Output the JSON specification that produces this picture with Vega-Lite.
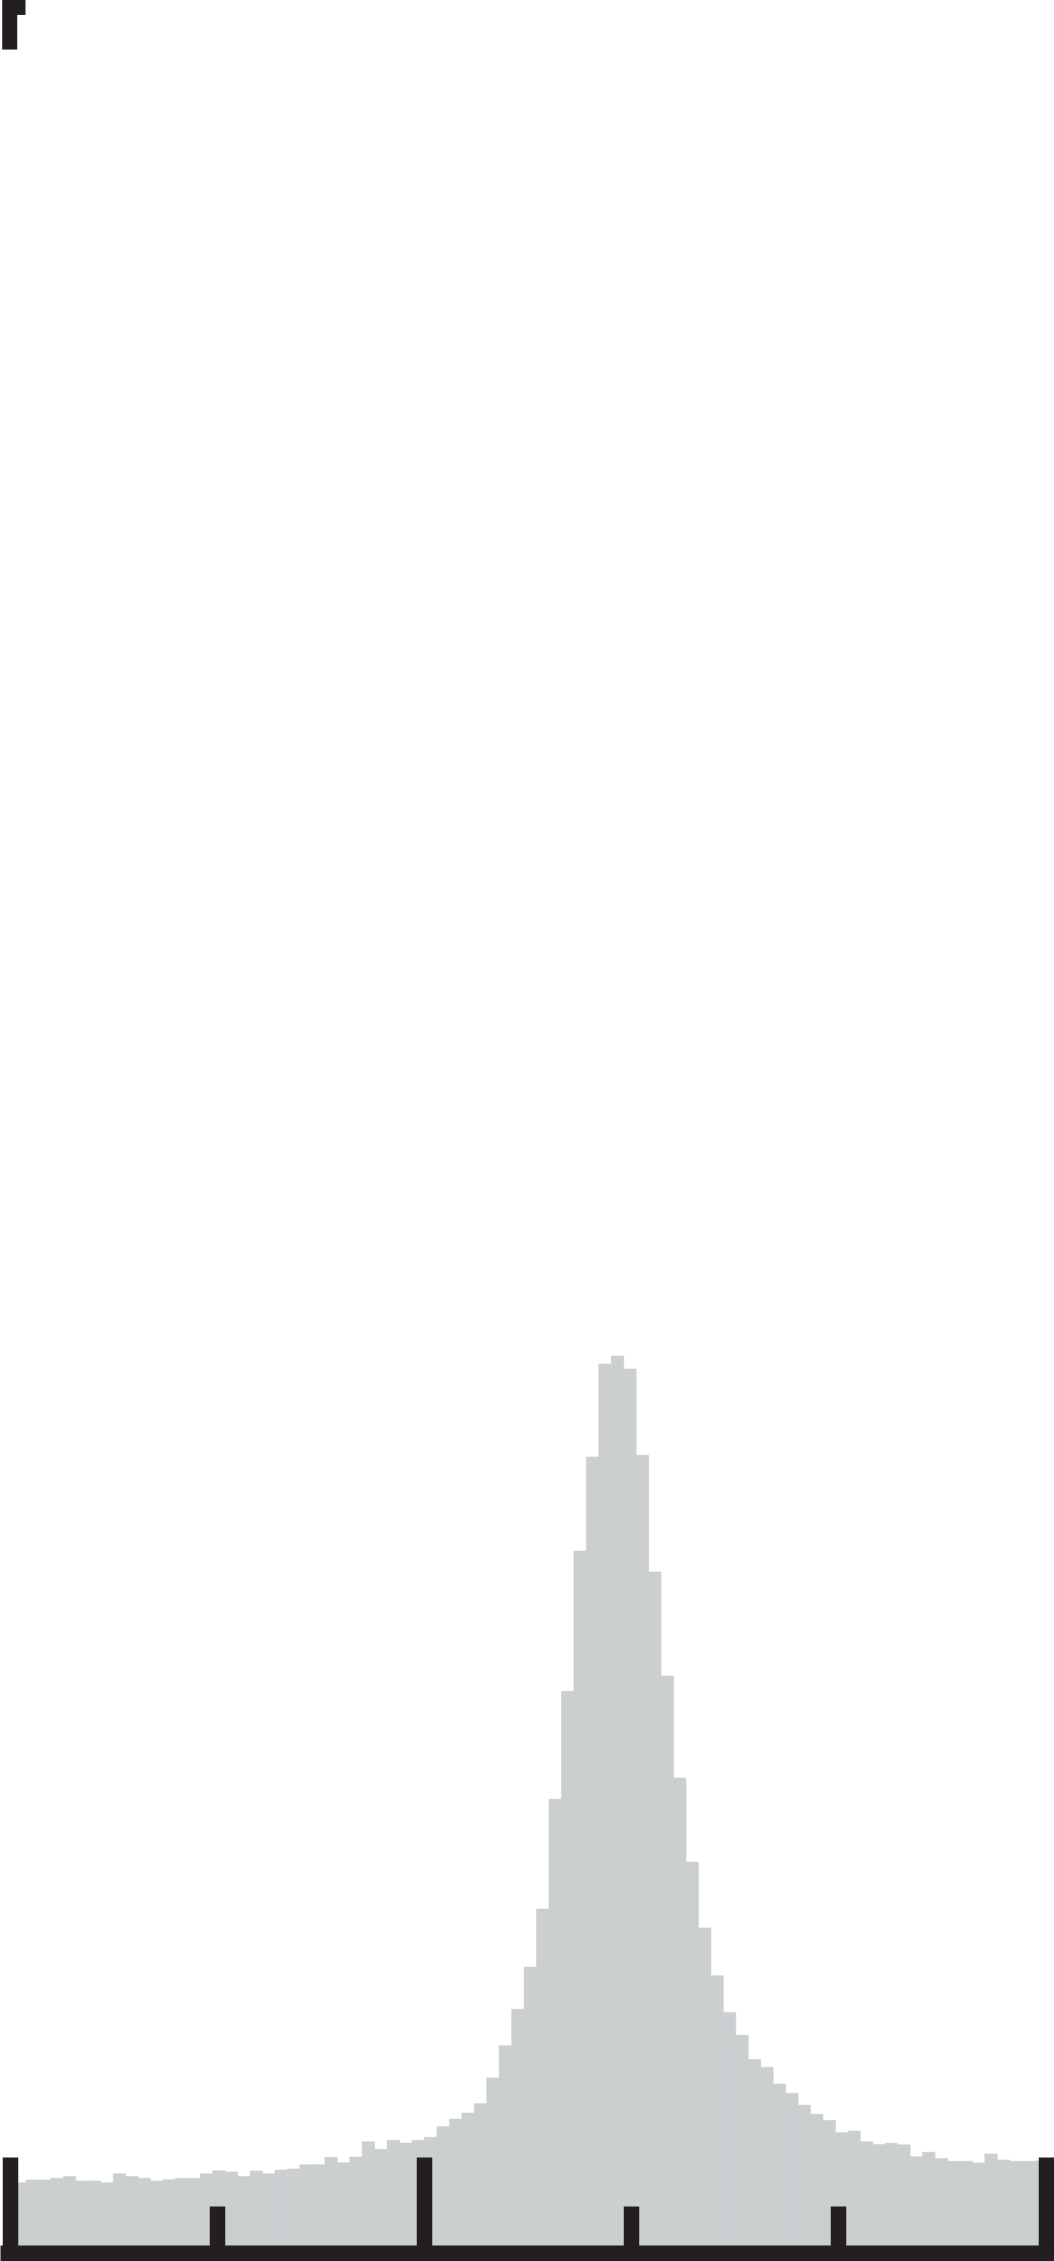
{
  "$schema": "https://vega.github.io/schema/vega-lite/v6.json",
  "width": 1054,
  "height": 2253,
  "autosize": "none",
  "padding": {"left": 0, "top": 0, "right": 0, "bottom": 8},
  "background": "white",
  "config": {"view": {"stroke": null}},
  "layer": [
    {
      "data": {
        "values": [
          {"bin_start": 0.0186, "bin_end": 0.0787, "count": 31.2},
          {"bin_start": 0.0787, "bin_end": 0.1388, "count": 32.4},
          {"bin_start": 0.1388, "bin_end": 0.1989, "count": 32.4},
          {"bin_start": 0.1989, "bin_end": 0.2590, "count": 33.2},
          {"bin_start": 0.2590, "bin_end": 0.3191, "count": 33.9},
          {"bin_start": 0.3191, "bin_end": 0.3792, "count": 32.0},
          {"bin_start": 0.3792, "bin_end": 0.4393, "count": 32.0},
          {"bin_start": 0.4393, "bin_end": 0.4994, "count": 31.2},
          {"bin_start": 0.4994, "bin_end": 0.5595, "count": 35.2},
          {"bin_start": 0.5595, "bin_end": 0.6196, "count": 33.9},
          {"bin_start": 0.6196, "bin_end": 0.6797, "count": 33.2},
          {"bin_start": 0.6797, "bin_end": 0.7398, "count": 32.0},
          {"bin_start": 0.7398, "bin_end": 0.7999, "count": 32.5},
          {"bin_start": 0.7999, "bin_end": 0.8600, "count": 33.2},
          {"bin_start": 0.8600, "bin_end": 0.9201, "count": 33.2},
          {"bin_start": 0.9201, "bin_end": 0.9802, "count": 35.2},
          {"bin_start": 0.9802, "bin_end": 1.0403, "count": 36.5},
          {"bin_start": 1.0403, "bin_end": 1.1004, "count": 36.0},
          {"bin_start": 1.1004, "bin_end": 1.1605, "count": 33.9},
          {"bin_start": 1.1605, "bin_end": 1.2206, "count": 36.4},
          {"bin_start": 1.2206, "bin_end": 1.2807, "count": 35.2},
          {"bin_start": 1.2807, "bin_end": 1.3408, "count": 36.8},
          {"bin_start": 1.3408, "bin_end": 1.4009, "count": 37.3},
          {"bin_start": 1.4009, "bin_end": 1.4610, "count": 39.2},
          {"bin_start": 1.4610, "bin_end": 1.5211, "count": 39.2},
          {"bin_start": 1.5211, "bin_end": 1.5812, "count": 42.5},
          {"bin_start": 1.5812, "bin_end": 1.6413, "count": 40.1},
          {"bin_start": 1.6413, "bin_end": 1.7014, "count": 42.6},
          {"bin_start": 1.7014, "bin_end": 1.7615, "count": 49.4},
          {"bin_start": 1.7615, "bin_end": 1.8216, "count": 46.0},
          {"bin_start": 1.8216, "bin_end": 1.8817, "count": 50.0},
          {"bin_start": 1.8817, "bin_end": 1.9418, "count": 48.8},
          {"bin_start": 1.9418, "bin_end": 2.0019, "count": 50.0},
          {"bin_start": 2.0019, "bin_end": 2.0620, "count": 51.4},
          {"bin_start": 2.0620, "bin_end": 2.1221, "count": 56.1},
          {"bin_start": 2.1221, "bin_end": 2.1822, "count": 59.5},
          {"bin_start": 2.1822, "bin_end": 2.2423, "count": 62.1},
          {"bin_start": 2.2423, "bin_end": 2.3024, "count": 66.3},
          {"bin_start": 2.3024, "bin_end": 2.3625, "count": 77.7},
          {"bin_start": 2.3625, "bin_end": 2.4226, "count": 92.0},
          {"bin_start": 2.4226, "bin_end": 2.4827, "count": 108.2},
          {"bin_start": 2.4827, "bin_end": 2.5428, "count": 126.9},
          {"bin_start": 2.5428, "bin_end": 2.6029, "count": 152.7},
          {"bin_start": 2.6029, "bin_end": 2.6630, "count": 201.4},
          {"bin_start": 2.6630, "bin_end": 2.7231, "count": 249.3},
          {"bin_start": 2.7231, "bin_end": 2.7832, "count": 311.6},
          {"bin_start": 2.7832, "bin_end": 2.8433, "count": 353.3},
          {"bin_start": 2.8433, "bin_end": 2.9034, "count": 394.6},
          {"bin_start": 2.9034, "bin_end": 2.9635, "count": 398.1},
          {"bin_start": 2.9635, "bin_end": 3.0236, "count": 392.4},
          {"bin_start": 3.0236, "bin_end": 3.0837, "count": 354.1},
          {"bin_start": 3.0837, "bin_end": 3.1438, "count": 302.3},
          {"bin_start": 3.1438, "bin_end": 3.2039, "count": 256.1},
          {"bin_start": 3.2039, "bin_end": 3.2640, "count": 210.8},
          {"bin_start": 3.2640, "bin_end": 3.3241, "count": 173.5},
          {"bin_start": 3.3241, "bin_end": 3.3842, "count": 144.3},
          {"bin_start": 3.3842, "bin_end": 3.4443, "count": 123.1},
          {"bin_start": 3.4443, "bin_end": 3.5044, "count": 106.8},
          {"bin_start": 3.5044, "bin_end": 3.5645, "count": 96.6},
          {"bin_start": 3.5645, "bin_end": 3.6246, "count": 85.9},
          {"bin_start": 3.6246, "bin_end": 3.6847, "count": 82.5},
          {"bin_start": 3.6847, "bin_end": 3.7448, "count": 75.0},
          {"bin_start": 3.7448, "bin_end": 3.8049, "count": 70.9},
          {"bin_start": 3.8049, "bin_end": 3.8650, "count": 65.6},
          {"bin_start": 3.8650, "bin_end": 3.9251, "count": 61.6},
          {"bin_start": 3.9251, "bin_end": 3.9852, "count": 58.8},
          {"bin_start": 3.9852, "bin_end": 4.0453, "count": 53.4},
          {"bin_start": 4.0453, "bin_end": 4.1054, "count": 54.1},
          {"bin_start": 4.1054, "bin_end": 4.1655, "count": 49.4},
          {"bin_start": 4.1655, "bin_end": 4.2256, "count": 48.2},
          {"bin_start": 4.2256, "bin_end": 4.2857, "count": 48.7},
          {"bin_start": 4.2857, "bin_end": 4.3458, "count": 48.0},
          {"bin_start": 4.3458, "bin_end": 4.4059, "count": 42.7},
          {"bin_start": 4.4059, "bin_end": 4.4660, "count": 44.7},
          {"bin_start": 4.4660, "bin_end": 4.5261, "count": 41.9},
          {"bin_start": 4.5261, "bin_end": 4.5862, "count": 40.7},
          {"bin_start": 4.5862, "bin_end": 4.6463, "count": 40.7},
          {"bin_start": 4.6463, "bin_end": 4.7064, "count": 40.0},
          {"bin_start": 4.7064, "bin_end": 4.7665, "count": 43.9},
          {"bin_start": 4.7665, "bin_end": 4.8266, "count": 41.3},
          {"bin_start": 4.8266, "bin_end": 4.8867, "count": 40.7},
          {"bin_start": 4.8867, "bin_end": 4.9468, "count": 40.7},
          {"bin_start": 4.9468, "bin_end": 5.0069, "count": 40.8}
        ]
      },
      "mark": {"type": "rect", "color": "#cbcfd0", "stroke": "#cbcfd0", "strokeWidth": 0.6},
      "encoding": {
        "x": {
          "field": "bin_start",
          "type": "quantitative",
          "scale": {"domain": [-0.0468, 5.0401], "nice": false, "zero": false},
          "axis": {
            "values": [0, 1, 2, 3, 4, 5],
            "labels": false,
            "title": null,
            "grid": false,
            "domainColor": "#231f20",
            "domainWidth": 16,
            "tickColor": "#231f20",
            "tickWidth": 15.5,
            "tickSize": {
              "condition": {"test": "datum.value === 0 || datum.value === 2 || datum.value === 5", "value": -96},
              "value": -47
            },
            "zindex": 1
          }
        },
        "x2": {"field": "bin_end"},
        "y": {
          "field": "count",
          "type": "quantitative",
          "scale": {"domain": [0, 1000], "nice": false},
          "axis": null
        },
        "y2": {"datum": 0}
      }
    },
    {
      "data": {
        "values": [
          {"x": 0, "x2": 0, "y": 1000, "y2": 978},
          {"x": 0, "x2": 0.0763, "y": 996.7, "y2": 996.7}
        ]
      },
      "mark": {"type": "rule", "color": "#231f20", "strokeWidth": 15, "strokeCap": "butt"},
      "encoding": {
        "x": {
          "field": "x",
          "type": "quantitative",
          "scale": {"domain": [-0.0468, 5.0401], "nice": false, "zero": false},
          "axis": {
            "values": [0, 1, 2, 3, 4, 5],
            "labels": false,
            "title": null,
            "grid": false,
            "domainColor": "#231f20",
            "domainWidth": 16,
            "tickColor": "#231f20",
            "tickWidth": 15.5,
            "tickSize": {
              "condition": {"test": "datum.value === 0 || datum.value === 2 || datum.value === 5", "value": -96},
              "value": -47
            },
            "zindex": 1
          }
        },
        "x2": {"field": "x2"},
        "y": {"field": "y", "type": "quantitative", "scale": {"domain": [0, 1000], "nice": false}, "axis": null},
        "y2": {"field": "y2"}
      }
    }
  ]
}
